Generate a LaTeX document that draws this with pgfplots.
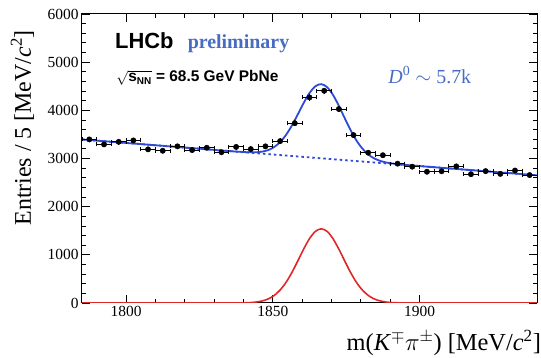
\documentclass[border=0pt]{standalone}
\usepackage{pgfplots}
\pgfplotsset{compat=1.18}
\usepackage{fontspec}
\setmainfont{Liberation Serif}
\newfontfamily\hel{Liberation Sans}
\definecolor{fitblue}{RGB}{45,75,215}
\definecolor{txtblue}{RGB}{72,108,196}
\definecolor{sigred}{RGB}{225,40,40}
\pgfplotstableread{
x y ex ey
1787.5 3396 2.5 58
1792.5 3293 2.5 57
1797.5 3346 2.5 58
1802.5 3375 2.5 58
1807.5 3190 2.5 56
1812.5 3160 2.5 56
1817.5 3252 2.5 57
1822.5 3175 2.5 56
1827.5 3223 2.5 57
1832.5 3130 2.5 56
1837.5 3240 2.5 57
1842.5 3195 2.5 57
1847.5 3252 2.5 57
1852.5 3361 2.5 58
1857.5 3732 2.5 61
1862.5 4268 2.5 65
1867.5 4406 2.5 66
1872.5 4027 2.5 63
1877.5 3485 2.5 59
1882.5 3120 2.5 56
1887.5 3068 2.5 55
1892.5 2893 2.5 54
1897.5 2830 2.5 53
1902.5 2725 2.5 52
1907.5 2735 2.5 52
1912.5 2836 2.5 53
1917.5 2674 2.5 52
1922.5 2738 2.5 52
1927.5 2680 2.5 52
1932.5 2750 2.5 52
1937.5 2656 2.5 52
}\datatab
\pgfplotstableread{
x y
1785 3395
1795 3347
1805 3299
1815 3251
1825 3203
1832 3169
1836.5 3148
1838.5 3140
1840.5 3133
1842.5 3128
1844.5 3130
1846.5 3144
1848.5 3176
1850.5 3239
1852.5 3341
1854.5 3489
1856.5 3685
1858.5 3914
1860.5 4151
1862.5 4359
1864.5 4500
1866.5 4544
1868.5 4481
1870.5 4321
1872.5 4093
1874.5 3837
1876.5 3589
1878.5 3374
1880.5 3207
1882.5 3085
1884.5 3003
1886.5 2952
1888.5 2919
1890.5 2898
1892.5 2883
1896.5 2860
1900 2843
1910 2795
1920 2747
1930 2699
1940 2651
}\fittab
\pgfplotstableread{
x y
1785 0
1830 0
1834.5 0
1836.5 0.5
1838.5 1.5
1840.5 4
1842.5 9
1844.5 21
1846.5 44
1848.5 86
1850.5 158
1852.5 270
1854.5 428
1856.5 633
1858.5 872
1860.5 1118
1862.5 1336
1864.5 1487
1866.5 1540
1868.5 1487
1870.5 1336
1872.5 1118
1874.5 872
1876.5 633
1878.5 428
1880.5 270
1882.5 158
1884.5 86
1886.5 44
1888.5 21
1890.5 9
1892.5 4
1894.5 1.5
1896.5 0.5
1898.5 0
1905 0
1940 0
}\sigtab
\pgfplotstableread{
x y
1785 3395
1940 2651
}\bkgtab
\begin{document}
\begin{tikzpicture}
\begin{axis}[name=ax, scale only axis, width=455bp, height=289bp,
  xmin=1785, xmax=1940, ymin=0, ymax=6000,
  xtick={1800,1850,1900}, xticklabels={1800,1850,1900},
  ytick={0,1000,2000,3000,4000,5000,6000},
  yticklabels={0,1000,2000,3000,4000,5000,6000},
  minor x tick num=4, minor y tick num=4,
  tick align=inside, tick pos=both,
  major tick length=8bp, minor tick length=4bp,
  axis line style={line width=1bp},
  every tick/.style={black, line width=0.8bp},
  scaled ticks=false,
  tick label style={font=\fontsize{15.5}{18}\selectfont},
  xlabel={m(\textit{K}$^{\scriptstyle\mp}$$\pi^{\scriptstyle\pm}$) [MeV/\textit{c}\textsuperscript{2}]},
  ylabel={Entries / 5 [MeV/\textit{c}\textsuperscript{2}]},
  xlabel style={at={(axis description cs:1.009,-0.164)}, anchor=base east, inner sep=0pt, font=\fontsize{24.5}{28}\selectfont},
  ylabel style={at={(axis description cs:-0.105,0.945)}, anchor=south east, inner sep=0pt, font=\fontsize{24}{28}\selectfont},
]
\addplot[sigred, line width=1.6bp, smooth] table[x=x, y=y] {\sigtab};
\addplot[fitblue, line width=1.8bp, dash pattern=on 2.5bp off 3bp] table[x=x, y=y] {\bkgtab};
\addplot[fitblue, line width=1.8bp, smooth] table[x=x, y=y] {\fittab};
\addplot[draw=none, mark=none,
  error bars/.cd, y dir=both, y explicit, error mark=none,
  error bar style={line width=0.9bp, black}]
  table[x=x, y=y, y error=ey] {\datatab};
\addplot[black, only marks, mark=*, mark size=2.7bp,
  error bars/.cd, x dir=both, x explicit,
  error bar style={line width=0.9bp, black}, error mark=|, error mark options={mark size=2bp, line width=0.9bp}]
  table[x=x, y=y, x error=ex] {\datatab};
\node[anchor=base west, inner sep=0pt, font=\hel\bfseries\fontsize{22}{26}\selectfont] at (axis description cs:0.0725,0.879) {LHCb};
\node[anchor=base west, inner sep=0pt, text=txtblue, font=\bfseries\fontsize{20}{24}\selectfont] at (axis description cs:0.232,0.879) {preliminary};
\node[anchor=base west, inner sep=0pt, font=\hel\bfseries\fontsize{15.5}{18}\selectfont] at (axis description cs:0.075,0.765) {$\sqrt{\mbox{s\textsubscript{\fontsize{10}{11}\selectfont NN}}}$ = 68.5 GeV PbNe};
\node[anchor=base west, inner sep=0pt, text=txtblue, font=\fontsize{20}{24}\selectfont] at (axis description cs:0.673,0.761) {\textit{D}\textsuperscript{0} $\sim$ 5.7k};
\end{axis}
\pgfresetboundingbox
\path[use as bounding box] ([shift={(-82bp,-55bp)}]ax.south west) rectangle ([shift={(4bp,14bp)}]ax.north east);
\end{tikzpicture}
\end{document}
